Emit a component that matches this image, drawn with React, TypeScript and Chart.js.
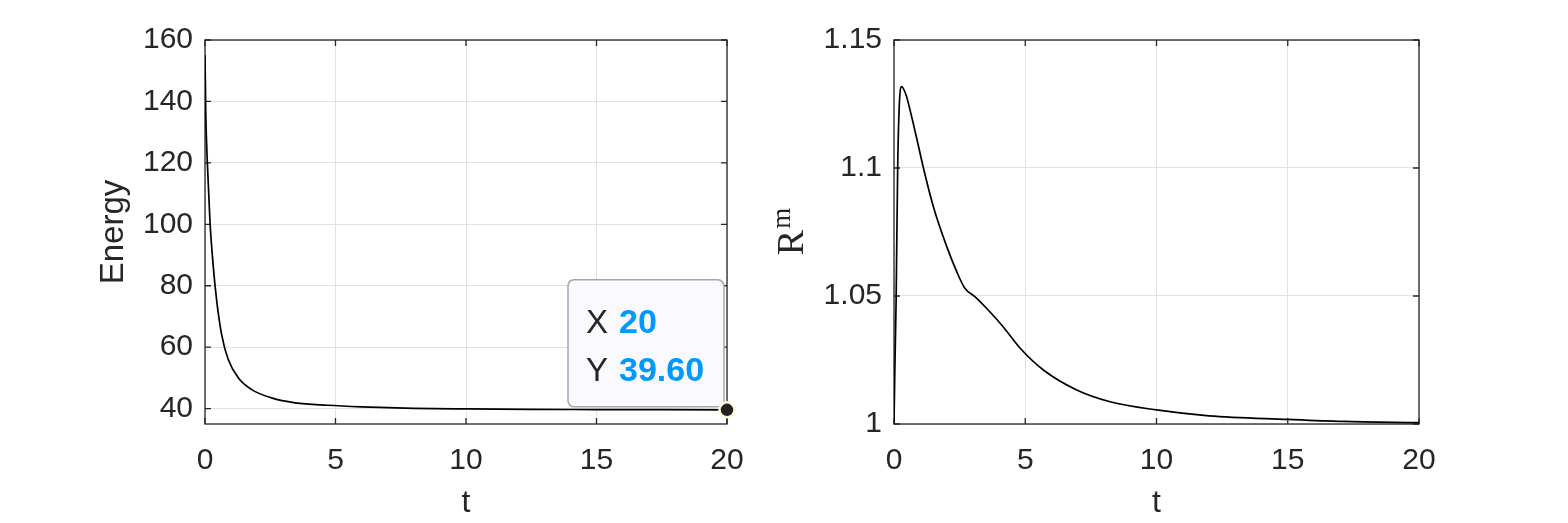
import React, { useEffect, useRef } from 'react';
import Chart from 'chart.js/auto';

// ---- data ----
const energyT = [0, 0.03, 0.09, 0.19, 0.32, 0.45, 0.64, 0.89, 1.28, 1.79, 2.55, 3.45, 4.7, 6, 8, 10, 12.5, 15, 17.5, 20];
const energyVals = [155, 136, 120, 101, 86, 75, 64, 56, 50, 46.2, 43.5, 41.9, 41.1, 40.6, 40.1, 39.9, 39.75, 39.7, 39.65, 39.6];
const rmT = [0, 0.03, 0.08, 0.14, 0.2, 0.29, 0.46, 0.61, 0.86, 1.11, 1.5, 2.01, 2.39, 2.7, 3.09, 3.47, 4.1, 4.86, 5.69, 6.96, 8.23, 10, 12, 15, 17.1, 20];
const rmVals = [1.0, 1.02, 1.048, 1.1, 1.124, 1.1318, 1.1285, 1.1227, 1.1118, 1.1005, 1.0849, 1.0693, 1.0595, 1.053, 1.0497, 1.0458, 1.0387, 1.029, 1.0211, 1.0133, 1.0087, 1.0055, 1.0032, 1.0018, 1.001, 1.0005];
const xTicks = [0, 5, 10, 15, 20];
const energyTicks = [40, 60, 80, 100, 120, 140, 160];
const rmTicks = [1, 1.05, 1.1, 1.15];
const xLabel = 't';
const energyLabel = 'Energy';
const rmLabelBase = 'R';
const rmLabelSup = 'm';

const FONT = "'Liberation Sans', Arial, Helvetica, sans-serif";
const SERIF = "'Liberation Serif', 'Times New Roman', serif";
const TEXT = '#262626';
const GRID = '#e2e2e2';
const BLUE = '#0099ff';

const framePlugin = {
  id: 'frame',
  beforeDatasetsDraw(chart: any) {
    const { ctx, chartArea: a, scales } = chart;
    const L = 6;
    ctx.save();
    ctx.strokeStyle = TEXT;
    ctx.lineWidth = 1.3;
    ctx.beginPath();
    scales.x.ticks.forEach((t: any) => {
      const px = scales.x.getPixelForValue(t.value);
      ctx.moveTo(px, a.bottom); ctx.lineTo(px, a.bottom - L);
      ctx.moveTo(px, a.top); ctx.lineTo(px, a.top + L);
    });
    scales.y.ticks.forEach((t: any) => {
      const py = scales.y.getPixelForValue(t.value);
      ctx.moveTo(a.left, py); ctx.lineTo(a.left + L, py);
      ctx.moveTo(a.right, py); ctx.lineTo(a.right - L, py);
    });
    ctx.stroke();
    ctx.strokeRect(a.left, a.top, a.right - a.left, a.bottom - a.top);
    ctx.restore();
  },
};

const tipPlugin = {
  id: 'datatip',
  beforeDatasetsDraw(chart: any) {
    const opts = chart.options.plugins.datatip;
    if (!opts || !opts.enabled) return;
    const { ctx, scales } = chart;
    const xv = opts.x, yv = opts.y;
    const px = scales.x.getPixelForValue(xv);
    const py = scales.y.getPixelForValue(yv);
    const l = px - 159, t = py - 130, w = 156, h = 127, r = 6;
    ctx.save();
    ctx.beginPath();
    ctx.roundRect(l, t, w, h, r);
    ctx.fillStyle = '#f9f9ff';
    ctx.fill();
    ctx.strokeStyle = '#a6a6a6';
    ctx.lineWidth = 1.5;
    ctx.stroke();
    ctx.textBaseline = 'alphabetic';
    ctx.textAlign = 'left';
    ctx.font = `33px ${FONT}`;
    ctx.fillStyle = TEXT;
    ctx.fillText('X', px - 141, py - 77);
    ctx.fillText('Y', px - 141, py - 29);
    ctx.font = `bold 34px ${FONT}`;
    ctx.fillStyle = BLUE;
    ctx.fillText(String(xv), px - 108, py - 77);
    ctx.fillText(yv.toFixed(2), px - 108, py - 29);
    ctx.restore();
  },
};

const rmTitlePlugin = {
  id: 'rmtitle',
  afterDraw(chart: any) {
    const opts = chart.options.plugins.rmtitle;
    if (!opts || !opts.enabled) return;
    const { ctx, chartArea: a } = chart;
    const cy = (a.top + a.bottom) / 2;
    ctx.save();
    ctx.translate(a.left - 91, cy);
    ctx.rotate(-Math.PI / 2);
    ctx.fillStyle = TEXT;
    ctx.textBaseline = 'alphabetic';
    ctx.textAlign = 'left';
    ctx.font = `38px ${SERIF}`;
    const wR = ctx.measureText(rmLabelBase).width;
    ctx.font = `27px ${SERIF}`;
    const wM = ctx.measureText(rmLabelSup).width;
    const x0 = -(wR + wM) / 2;
    ctx.font = `38px ${SERIF}`;
    ctx.fillText(rmLabelBase, x0, 0);
    ctx.font = `27px ${SERIF}`;
    ctx.fillText(rmLabelSup, x0 + wR + 1, -13);
    ctx.restore();
  },
};

function buildConfig(p: {
  xs: number[]; ys: number[]; yTicks: number[]; yMin: number; yMax: number;
  yWidth: number; padRight: number; yTitle: string | null; tip: boolean;
}) {
  const lineData = p.xs.map((x, i) => ({ x, y: p.ys[i] }));
  const datasets: any[] = [];
  if (p.tip) {
    const n = p.xs.length - 1;
    datasets.push({
      data: [{ x: p.xs[n], y: p.ys[n] }],
      showLine: false,
      pointRadius: 7.5,
      pointBackgroundColor: '#222222',
      pointBorderColor: '#fffbd8',
      pointBorderWidth: 2.5,
      clip: false,
    });
  }
  datasets.push({
    data: lineData,
    borderColor: '#000000',
    borderWidth: 1.7,
    pointRadius: 0,
    fill: false,
    cubicInterpolationMode: 'monotone',
  });
  return {
    type: 'line',
    data: { datasets },
    options: {
      animation: false,
      responsive: false,
      devicePixelRatio: 1,
      layout: { padding: { left: 0, right: p.padRight, top: 40, bottom: 0 } },
      plugins: {
        legend: { display: false },
        tooltip: { enabled: false },
        datatip: p.tip ? { enabled: true, x: p.xs[p.xs.length - 1], y: p.ys[p.ys.length - 1] } : { enabled: false },
        rmtitle: { enabled: !p.yTitle },
      },
      scales: {
        x: {
          type: 'linear',
          min: xTicks[0],
          max: xTicks[xTicks.length - 1],
          afterBuildTicks: (s: any) => { s.ticks = xTicks.map((v) => ({ value: v })); },
          afterFit: (s: any) => { s.height = 99; },
          grid: { color: GRID, lineWidth: 1, drawTicks: false },
          border: { display: false },
          ticks: { color: TEXT, font: { family: FONT, size: 30 }, padding: 19, maxRotation: 0, callback: (v: any) => String(v) },
          title: { display: true, text: xLabel, color: TEXT, font: { family: FONT, size: 32 }, padding: { top: 0, bottom: 1 } },
        },
        y: {
          type: 'linear',
          min: p.yMin,
          max: p.yMax,
          afterBuildTicks: (s: any) => { s.ticks = p.yTicks.map((v) => ({ value: v })); },
          afterFit: (s: any) => { s.width = p.yWidth; },
          grid: { color: GRID, lineWidth: 1, drawTicks: false },
          border: { display: false },
          ticks: { color: TEXT, font: { family: FONT, size: 30 }, padding: 12, callback: (v: any) => String(v) },
          title: p.yTitle
            ? { display: true, text: p.yTitle, color: TEXT, font: { family: FONT, size: 33 }, padding: { top: 94, bottom: 0 } }
            : { display: false },
        },
      },
    },
    plugins: [framePlugin, tipPlugin, rmTitlePlugin],
  };
}

export default function App() {
  const leftRef = useRef<HTMLCanvasElement>(null);
  const rightRef = useRef<HTMLCanvasElement>(null);

  useEffect(() => {
    const c1 = new Chart(leftRef.current as any, buildConfig({
      xs: energyT, ys: energyVals, yTicks: energyTicks, yMin: 35, yMax: 160,
      yWidth: 205, padRight: 57, yTitle: energyLabel, tip: true,
    }) as any);
    const c2 = new Chart(rightRef.current as any, buildConfig({
      xs: rmT, ys: rmVals, yTicks: rmTicks, yMin: 1, yMax: 1.15,
      yWidth: 154, padRight: 149, yTitle: null, tip: false,
    }) as any);
    return () => { c1.destroy(); c2.destroy(); };
  }, []);

  return (
    <div style={{ position: 'absolute', left: 0, top: 0, width: 1568, height: 523, background: '#ffffff' }}>
      <canvas ref={leftRef} width={784} height={523} style={{ position: 'absolute', left: 0, top: 0, width: 784, height: 523 }} />
      <canvas ref={rightRef} width={828} height={523} style={{ position: 'absolute', left: 740, top: 0, width: 828, height: 523 }} />
    </div>
  );
}
